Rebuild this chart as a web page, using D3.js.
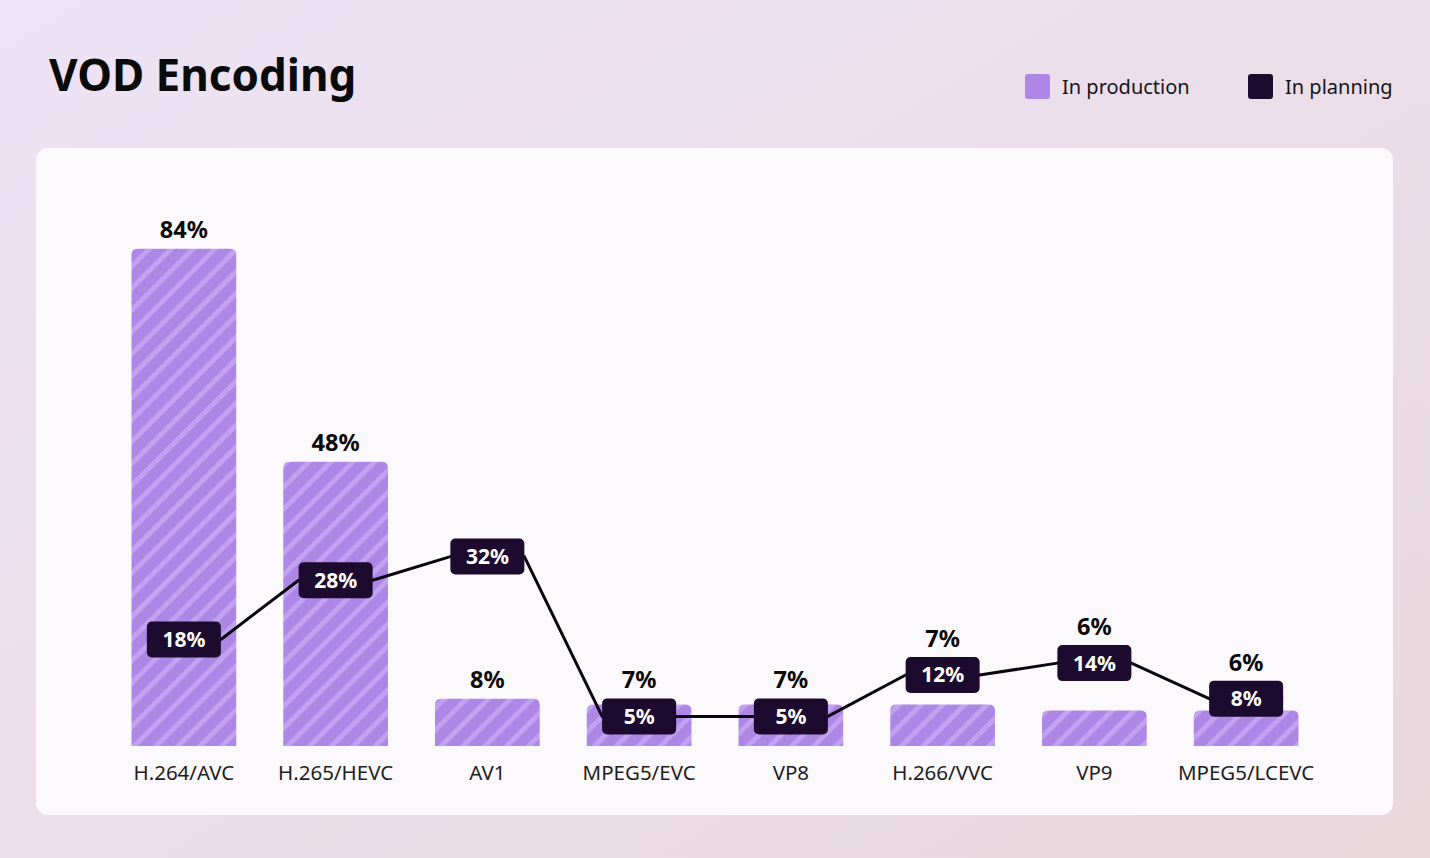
<!DOCTYPE html>
<html lang="en">
  <head>
    <script src="https://d3js.org/d3.v7.min.js"></script>
    <meta charset="utf-8"/>
    <title>VOD Encoding</title>
  </head>
  <body>
    <div id="chart_div">
      <svg id="chart"></svg>
    </div>
  </body>

  <style>
  html, body {
    margin: 0;
    padding: 0;
    overflow: hidden;
  }
  text {
    font-family: "Noto Sans", "Open Sans", sans-serif;
  }
  .line {
    fill: none;
    stroke: #0a0510;
    stroke-width: 3px;
    stroke-linejoin: round;
  }
  </style>

  <script>
    const width = 1430;
    const height = 858;

    const categories = ["H.264/AVC", "H.265/HEVC", "AV1", "MPEG5/EVC", "VP8", "H.266/VVC", "VP9", "MPEG5/LCEVC"];
    const production = [84, 48, 8, 7, 7, 7, 6, 6];
    const planning = [18, 28, 32, 5, 5, 12, 14, 8];
    const seriesNames = ["In production", "In planning"];

    const prodColor = "#ad86e6";
    const stripeColor = "#c3a1f1";
    const planColor = "#1c0b2e";

    const baseline = 746;
    const boxW = 74;
    const boxH = 36;

    const svg = d3.select("#chart")
      .attr("width", width)
      .attr("height", height);

    const defs = svg.append("defs");

    // background gradient
    const bg = defs.append("linearGradient")
      .attr("id", "bg")
      .attr("x1", "0%").attr("y1", "0%")
      .attr("x2", "100%").attr("y2", "100%");
    bg.append("stop").attr("offset", "0%").attr("stop-color", "#ede3f5");
    bg.append("stop").attr("offset", "100%").attr("stop-color", "#e9d9dd");

    // stripes on the bars
    const pat = defs.append("pattern")
      .attr("id", "stripes")
      .attr("patternUnits", "userSpaceOnUse")
      .attr("width", 15.5)
      .attr("height", 15.5)
      .attr("patternTransform", "rotate(45)");
    pat.append("rect")
      .attr("width", 15.5).attr("height", 15.5)
      .attr("fill", prodColor);
    pat.append("rect")
      .attr("x", 0).attr("width", 5).attr("height", 15.5)
      .attr("fill", stripeColor);

    svg.append("rect")
      .attr("width", width)
      .attr("height", height)
      .attr("fill", "url(#bg)");

    // card
    svg.append("rect")
      .attr("x", 36)
      .attr("y", 148)
      .attr("width", 1357)
      .attr("height", 667)
      .attr("rx", 12)
      .attr("fill", "#fcf9fc");

    svg.append("text")
      .attr("x", 49)
      .attr("y", 91)
      .attr("font-size", 44)
      .attr("font-weight", 700)
      .attr("fill", "#0a0a0a")
      .text("VOD Encoding");

    // legend
    const legendX = [1025, 1248];
    const legend = svg.selectAll(".legend")
      .data(seriesNames)
      .enter()
      .append("g")
      .attr("class", "legend")
      .attr("transform", (d, i) => "translate(" + legendX[i] + ",74)");
    legend.append("rect")
      .attr("width", 25)
      .attr("height", 25)
      .attr("rx", 3)
      .attr("fill", (d, i) => i == 0 ? prodColor : planColor);
    legend.append("text")
      .attr("x", 37)
      .attr("y", 20)
      .attr("font-size", 20)
      .attr("fill", "#151515")
      .text(d => d);

    const xScale = d3.scaleBand()
      .domain(categories)
      .range([108, 1322])
      .paddingInner(0.31)
      .paddingOuter(0.155);

    const yScale = d3.scaleLinear()
      .domain([0, 100])
      .range([baseline, baseline - 592]);

    const cx = d => xScale(d) + xScale.bandwidth() / 2;

    function topRoundedBar(x, y, w, h, r) {
      r = Math.min(r, h);
      return "M" + x + "," + (y + h) +
        "V" + (y + r) +
        "Q" + x + "," + y + " " + (x + r) + "," + y +
        "H" + (x + w - r) +
        "Q" + (x + w) + "," + y + " " + (x + w) + "," + (y + r) +
        "V" + (y + h) + "Z";
    }

    svg.selectAll(".bar")
      .data(categories)
      .enter()
      .append("path")
      .attr("class", "bar")
      .attr("d", (d, i) => topRoundedBar(xScale(d), yScale(production[i]), xScale.bandwidth(), baseline - yScale(production[i]), 6))
      .attr("fill", "url(#stripes)");

    // category axis
    const xAxis = svg.append("g")
      .attr("transform", "translate(0," + baseline + ")")
      .call(d3.axisBottom(xScale).tickSize(0).tickPadding(19));
    xAxis.select(".domain").remove();
    xAxis.selectAll("text")
      .attr("font-size", 20.5)
      .attr("fill", "#1e1e1e")
      .style("font-family", "\"Noto Sans\", sans-serif");

    // production labels, nudged above planning boxes where they collide
    svg.selectAll(".prod-label")
      .data(categories)
      .enter()
      .append("text")
      .attr("class", "prod-label")
      .attr("x", d => cx(d))
      .attr("y", (d, i) => {
        const barTop = yScale(production[i]);
        const above = barTop - 11;
        const boxTop = yScale(planning[i]) - boxH / 2;
        const boxBottom = yScale(planning[i]) + boxH / 2;
        return boxBottom > barTop - 40 ? Math.min(above, boxTop - 10) : above;
      })
      .attr("text-anchor", "middle")
      .attr("font-size", 23.5)
      .attr("font-weight", 700)
      .attr("fill", "#0a0a0a")
      .text((d, i) => production[i] + "%");

    // line joins each box's right edge to the next box's left edge
    const linePoints = categories.flatMap((d, i) => [
      [cx(d) - boxW / 2, yScale(planning[i])],
      [cx(d) + boxW / 2, yScale(planning[i])]
    ]);

    svg.append("path")
      .datum(linePoints)
      .attr("class", "line")
      .attr("d", d3.line());

    const boxes = svg.selectAll(".plan")
      .data(categories)
      .enter()
      .append("g")
      .attr("class", "plan")
      .attr("transform", (d, i) => "translate(" + cx(d) + "," + yScale(planning[i]) + ")");
    boxes.append("rect")
      .attr("x", -boxW / 2)
      .attr("y", -boxH / 2)
      .attr("width", boxW)
      .attr("height", boxH)
      .attr("rx", 5)
      .attr("fill", planColor);
    boxes.append("text")
      .attr("y", 7.5)
      .attr("text-anchor", "middle")
      .attr("font-size", 21)
      .attr("font-weight", 700)
      .attr("fill", "#ffffff")
      .text((d, i) => planning[i] + "%");
  </script>
</html>
